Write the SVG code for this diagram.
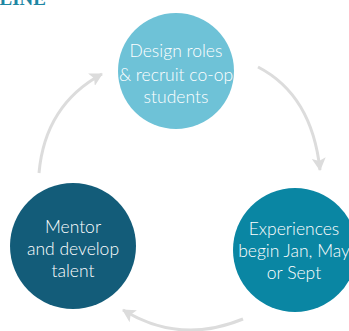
<svg xmlns="http://www.w3.org/2000/svg" width="349" height="331" viewBox="0 0 349 331">
<style>
.lbl{font-family:"Lato","Open Sans","Liberation Sans",sans-serif;font-size:17.5px;font-weight:300;fill:#fff;text-anchor:middle}
.conn{fill:none;stroke:#dcdcdc;stroke-width:3}
.ttl{font-family:"Liberation Serif",serif;font-weight:bold;font-size:19px;fill:#1e86a3}
</style>
<defs>
<marker id="ah" markerUnits="userSpaceOnUse" markerWidth="14" markerHeight="14" refX="12" refY="7" orient="auto">
<path d="M0,0 L13,7 L0,14 L3,7 z" fill="#dcdcdc"/>
</marker>
</defs>
<text class="ttl" x="46" y="5" text-anchor="end">ELINE</text>
<g id="connectors">
<path class="conn" d="M39,173 Q45,105 102,74" marker-end="url(#ah)"/>
<path class="conn" d="M258,67 Q312,95 320,170" marker-end="url(#ah)"/>
<path class="conn" d="M243,319 Q180,345 123,310" marker-end="url(#ah)"/>
</g>
<g id="node-design">
<circle cx="176" cy="71" r="58" fill="#6ec2d7"/>
<text class="lbl" x="176" y="57">Design roles</text>
<text class="lbl" x="176" y="81">&amp; recruit co-op</text>
<text class="lbl" x="176" y="103">students</text>
</g>
<g id="node-mentor">
<circle cx="73" cy="246" r="63" fill="#135c79"/>
<text class="lbl" x="73" y="233">Mentor</text>
<text class="lbl" x="73" y="255">and develop</text>
<text class="lbl" x="73" y="277">talent</text>
</g>
<g id="node-experiences">
<circle cx="295" cy="250" r="62" fill="#0a86a3"/>
<text class="lbl" x="294" y="235">Experiences</text>
<text class="lbl" x="294" y="257">begin Jan, May</text>
<text class="lbl" x="294" y="279">or Sept</text>
</g>
</svg>
